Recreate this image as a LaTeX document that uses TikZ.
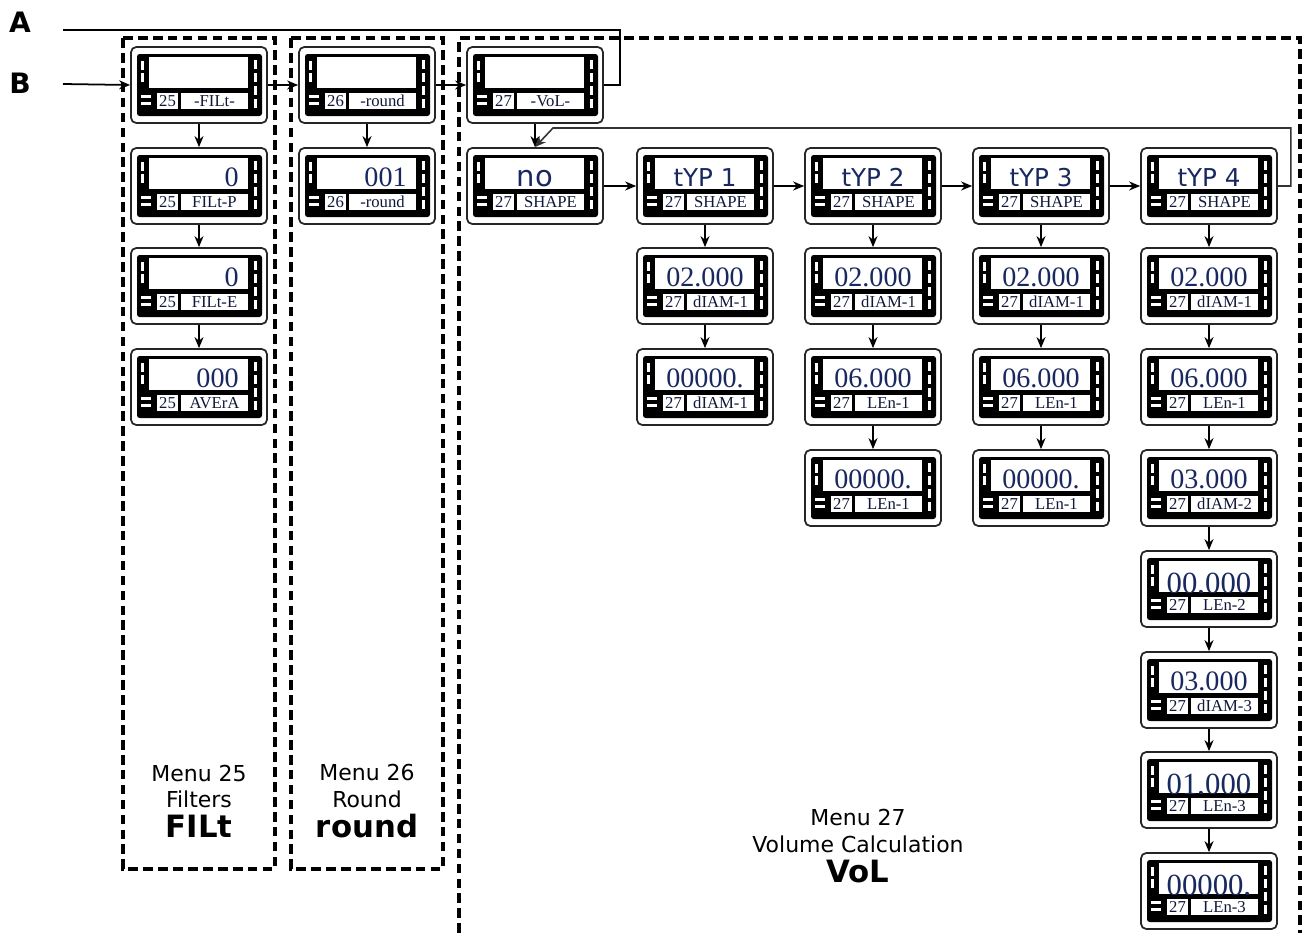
\documentclass[tikz,border=0pt]{standalone}
\usepackage{fontspec}
\setmainfont{Liberation Serif}
\setsansfont{DejaVu Sans}
\usetikzlibrary{arrows.meta}

\definecolor{lcd}{RGB}{25,40,95}

% one panel meter: name, position, text style, display text, menu number, parameter
\newcommand{\meter}[6]{%
  \node[meter] (#1) at (#2) {};
  \begin{scope}[shift={(#1.center)}]
    \fill[rounded corners=1.5pt] (-62,-31) rectangle (63,31);
    \fill[white] (-50,-28) rectangle (49,3);
    \fill[white] (-42,8) rectangle (-21,24);
    \fill[white] (-18,8) rectangle (49,24);
    \foreach \y in {-24,-12} \fill[white] (-58,\y) rectangle (-55,\y+9);
    \foreach \y in {10,17} \fill[white] (-58,\y) rectangle (-48,\y+2.5);
    \foreach \y in {-25,-12,1,14} \fill[white] (55,\y) rectangle (58,\y+9);
    \begin{scope}
      \clip (-50,-28) rectangle (49,3);
      \node[#3] {#4};
    \end{scope}
    \node[tag] at (-31.5,16) {#5};
    \node[tag] at (15.5,16) {#6};
  \end{scope}
}

\begin{document}
\begin{tikzpicture}[
    x=0.02cm, y=-0.02cm,
    meter/.style={draw=black!85, line width=1pt, rounded corners=3pt, fill=white, minimum width=2.72cm, minimum height=1.52cm, inner sep=0pt},
    lcdnum/.style={anchor=base, inner sep=0pt, text=lcd, font=\fontsize{16}{16}\selectfont, at={(0,0)}},
    lcdright/.style={lcdnum, anchor=base east, at={(40,0)}},
    lcdlow/.style={lcdnum, font=\fontsize{17.5}{17.5}\selectfont, at={(0,4)}},
    lcdsans/.style={anchor=base, inner sep=0pt, text=lcd, font=\sffamily\fontsize{14}{14}\selectfont, at={(0,0)}},
    lcdbig/.style={lcdsans, font=\sffamily\fontsize{16.5}{16.5}\selectfont, at={(0,0.5)}},
    tag/.style={inner sep=0pt, text=lcd!60!black, font=\fontsize{9.5}{9.5}\selectfont},
    menubox/.style={line width=2pt, dash pattern=on 5.5pt off 3pt},
    menu/.style={align=center, font=\sffamily\fontsize{12.5}{15}\selectfont},
    port/.style={font=\sffamily\bfseries\fontsize{16}{16}\selectfont},
    arrow/.style={-{Stealth[length=2.2mm, width=1.8mm]}, line width=1pt},
    wire/.style={line width=1.4pt},
    back/.style={-{Stealth[length=2.2mm, width=1.8mm]}, line width=0.9pt, draw=black!80},
]
    \useasboundingbox (0,0) rectangle (1309,933);

    % menu frames
    \draw[menubox] (123,38) rectangle (275,869);
    \draw[menubox] (291,38) rectangle (443,869);
    \draw[menubox] (459,933) -- (459,38) -- (1300,38) -- (1300,933);

    % menu 25
    \meter{fil0}{199,85}{lcdnum}{}{25}{-FILt-}
    \meter{fil1}{199,186}{lcdright}{0}{25}{FILt-P}
    \meter{fil2}{199,286}{lcdright}{0}{25}{FILt-E}
    \meter{fil3}{199,387}{lcdright}{000}{25}{AVErA}

    % menu 26
    \meter{rnd0}{367,85}{lcdnum}{}{26}{-round}
    \meter{rnd1}{367,186}{lcdright}{001}{26}{-round}

    % menu 27
    \meter{vol0}{535,85}{lcdnum}{}{27}{-VoL-}
    \meter{shp0}{535,186}{lcdbig}{no}{27}{SHAPE}
    \meter{shp1}{705,186}{lcdsans}{tYP 1}{27}{SHAPE}
    \meter{shp2}{873,186}{lcdsans}{tYP 2}{27}{SHAPE}
    \meter{shp3}{1041,186}{lcdsans}{tYP 3}{27}{SHAPE}
    \meter{shp4}{1209,186}{lcdsans}{tYP 4}{27}{SHAPE}

    \meter{ta1}{705,286}{lcdnum}{02.000}{27}{dIAM-1}
    \meter{ta2}{705,387}{lcdnum}{00000.}{27}{dIAM-1}

    \meter{tb1}{873,286}{lcdnum}{02.000}{27}{dIAM-1}
    \meter{tb2}{873,387}{lcdnum}{06.000}{27}{LEn-1}
    \meter{tb3}{873,488}{lcdnum}{00000.}{27}{LEn-1}

    \meter{tc1}{1041,286}{lcdnum}{02.000}{27}{dIAM-1}
    \meter{tc2}{1041,387}{lcdnum}{06.000}{27}{LEn-1}
    \meter{tc3}{1041,488}{lcdnum}{00000.}{27}{LEn-1}

    \meter{td1}{1209,286}{lcdnum}{02.000}{27}{dIAM-1}
    \meter{td2}{1209,387}{lcdnum}{06.000}{27}{LEn-1}
    \meter{td3}{1209,488}{lcdnum}{03.000}{27}{dIAM-2}
    \meter{td4}{1209,589}{lcdlow}{00,000}{27}{LEn-2}
    \meter{td5}{1209,690}{lcdnum}{03.000}{27}{dIAM-3}
    \meter{td6}{1209,790}{lcdlow}{01,000}{27}{LEn-3}
    \meter{td7}{1209,891}{lcdlow}{00000,}{27}{LEn-3}

    % entry points
    \node[port] (portA) at (20,22) {A};
    \node[port] (portB) at (20,83) {B};
    \coordinate (a0) at (63,30);
    \coordinate (a1) at (620,30);
    \coordinate (b0) at (63,84);
    \coordinate (ret) at (553,128);

    \draw[wire] (a0) -- (a1) |- (vol0.east);
    \draw[arrow] (b0) -- (fil0.west);
    \draw[arrow] (fil0) -- (rnd0);
    \draw[arrow] (rnd0) -- (vol0);

    \draw[arrow] (fil0) -- (fil1);
    \draw[arrow] (fil1) -- (fil2);
    \draw[arrow] (fil2) -- (fil3);
    \draw[arrow] (rnd0) -- (rnd1);
    \draw[arrow] (vol0) -- (shp0);

    \draw[arrow] (shp0) -- (shp1);
    \draw[arrow] (shp1) -- (shp2);
    \draw[arrow] (shp2) -- (shp3);
    \draw[arrow] (shp3) -- (shp4);
    \draw[back] (shp4.east) -- ++(13,0) |- (ret) -- (shp0.north);

    \draw[arrow] (shp1) -- (ta1);
    \draw[arrow] (ta1) -- (ta2);
    \draw[arrow] (shp2) -- (tb1);
    \draw[arrow] (tb1) -- (tb2);
    \draw[arrow] (tb2) -- (tb3);
    \draw[arrow] (shp3) -- (tc1);
    \draw[arrow] (tc1) -- (tc2);
    \draw[arrow] (tc2) -- (tc3);
    \draw[arrow] (shp4) -- (td1);
    \draw[arrow] (td1) -- (td2);
    \draw[arrow] (td2) -- (td3);
    \draw[arrow] (td3) -- (td4);
    \draw[arrow] (td4) -- (td5);
    \draw[arrow] (td5) -- (td6);
    \draw[arrow] (td6) -- (td7);

    % captions
    \node[menu] (cap25) at (199,801) {Menu 25\\Filters\\[2pt]{\bfseries\fontsize{17.5}{18}\selectfont FILt}};
    \node[menu] (cap26) at (367,801) {Menu 26\\Round\\[2pt]{\bfseries\fontsize{17.5}{18}\selectfont round}};
    \node[menu] (cap27) at (858,846) {Menu 27\\Volume Calculation\\[2pt]{\bfseries\fontsize{17.5}{18}\selectfont VoL}};
\end{tikzpicture}
\end{document}
